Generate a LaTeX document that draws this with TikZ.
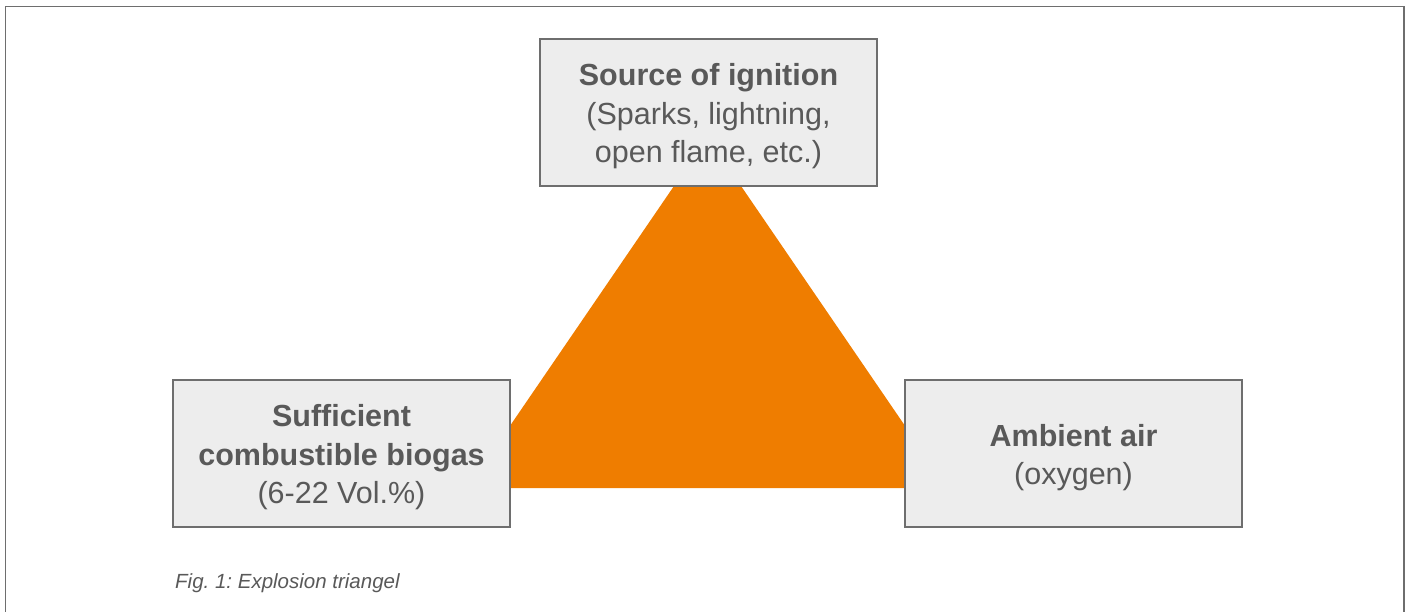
\documentclass[tikz,border=0pt]{standalone}
\usepackage{fontspec}
\setmainfont{Liberation Sans}
\frenchspacing
\definecolor{flame}{HTML}{EF7D00}
\definecolor{boxgrey}{HTML}{EDEDED}
\definecolor{textgrey}{HTML}{595959}
\definecolor{framegrey}{HTML}{6E6E6E}
\newcommand{\topgap}{\rule{0pt}{30pt}}

\begin{document}
\begin{tikzpicture}[x=1pt,y=-1pt,
		factor/.style={draw=framegrey,line width=1.5pt,fill=boxgrey,text=textgrey,minimum width=337pt,minimum height=147pt,align=center,inner sep=0pt,font=\fontsize{30.5}{38.5}\selectfont}]
		\useasboundingbox (0,0) rectangle (1407,612);
		\draw[framegrey,line width=1.8pt] (5.5,630) -- (5.5,6.5) -- (1404,6.5) -- (1404,630);
		\coordinate (tip) at (707.5,137);
		\coordinate (bl) at (467.5,488);
		\coordinate (br) at (947.5,488);
		\fill[flame] (tip) -- (bl) -- (br) -- cycle;
		\node[factor] (ignition) at (708.5,112.5) {\topgap\textbf{Source of ignition}\\(Sparks, lightning,\\open flame, etc.)};
		\node[factor] (biogas) at (341.5,453.5) {\topgap\textbf{Sufficient}\\\textbf{combustible biogas}\\(6-22 Vol.\%)};
		\node[factor] (air) at (1073.5,453.5) {\topgap\textbf{Ambient air}\\(oxygen)};
		\node[anchor=base west,inner sep=0pt,text=textgrey,font=\fontsize{20.5}{23}\selectfont\itshape] (caption) at (175,588) {Fig. 1: Explosion triangel};
	\end{tikzpicture}
\end{document}
